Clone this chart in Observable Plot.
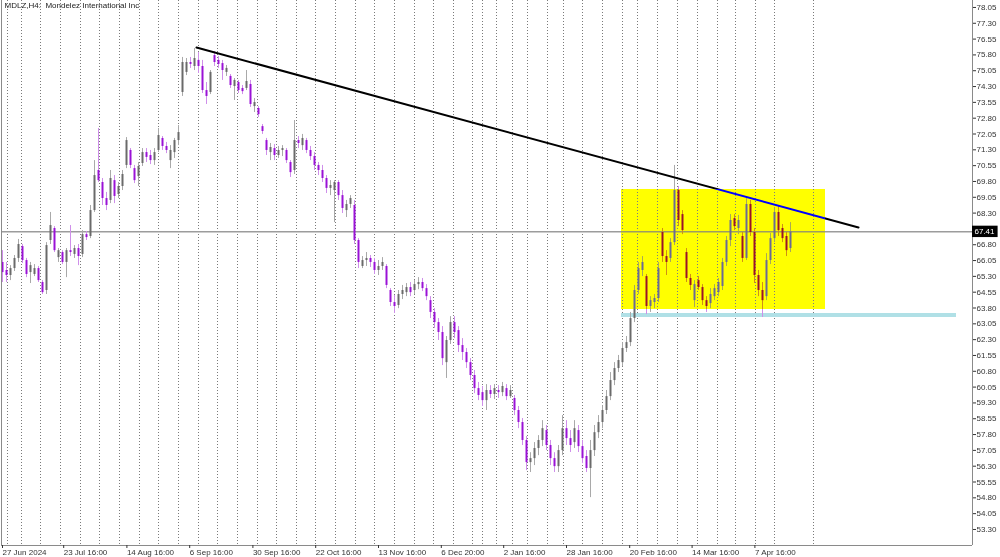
<!DOCTYPE html>
<html><head><meta charset="utf-8">
<script src="https://cdn.jsdelivr.net/npm/d3@7"></script>
<script src="https://cdn.jsdelivr.net/npm/@observablehq/plot@0.6"></script>
<style>html,body{margin:0;padding:0;background:#fff;overflow:hidden}</style>
</head><body><div id="chart"></div>
<script>
// MDLZ H4 – price data (one candle per trading day)
const opens = [65.96,65.58,65.34,65.67,66.15,66.71,66.05,65.48,65.39,65.67,
65.01,64.63,67.00,67.57,66.19,66.43,65.96,66.52,66.34,66.62,
66.34,67.28,67.19,68.42,70.32,69.75,68.99,68.90,69.84,69.18,
69.56,70.56,71.27,70.41,70.03,70.65,71.17,71.03,70.79,71.27,
71.84,71.46,70.79,71.17,71.74,74.02,74.97,75.44,75.25,75.54,
75.25,74.11,74.02,75.77,75.54,75.39,74.97,74.78,74.30,74.49,
74.21,74.21,74.40,73.35,73.26,72.40,71.74,71.17,71.36,71.03,
71.27,71.27,70.70,70.32,71.74,71.50,71.74,71.27,70.98,70.56,
70.32,69.94,69.47,69.37,69.75,69.13,68.42,68.71,68.66,67.00,
65.77,66.05,66.15,65.96,65.58,65.77,65.77,64.63,64.06,63.92,
64.44,64.53,64.77,64.63,64.91,65.01,64.72,64.15,63.59,63.11,
62.64,61.21,62.26,63.11,62.73,62.02,61.69,61.21,60.60,59.98,
59.79,59.41,59.89,59.70,59.89,59.79,59.98,59.60,59.51,58.94,
58.37,57.52,56.47,56.66,57.14,57.52,57.99,57.28,56.66,56.28,
57.04,58.08,57.61,57.42,57.99,57.23,56.76,56.19,57.04,57.89,
58.37,58.94,59.60,60.36,60.93,61.21,61.88,62.16,63.30,64.63,
65.58,65.29,63.87,64.06,64.25,67.38,66.24,66.15,66.90,69.37,
68.23,66.43,65.20,64.15,65.10,64.77,64.15,64.01,64.34,64.53,
64.82,65.96,67.00,68.04,67.57,67.19,66.15,68.71,67.38,65.34,
64.63,64.34,66.05,67.09,68.33,67.57,67.19,66.62];
const highs = [66.52,65.96,65.81,66.29,67.05,66.81,66.15,65.96,65.86,65.77,
65.10,66.90,68.33,67.66,66.62,66.52,66.62,67.71,66.76,66.81,
67.47,67.43,68.66,70.79,72.31,69.94,69.28,70.32,70.08,69.75,
70.32,71.88,71.36,70.56,70.70,71.36,71.36,71.27,71.36,72.31,
71.93,71.65,71.50,71.84,72.45,75.68,75.63,75.68,76.10,75.91,
75.54,74.49,75.06,75.96,75.72,75.54,75.30,74.87,74.68,74.59,
74.35,75.06,74.59,73.73,73.35,72.50,71.84,71.60,71.55,71.46,
71.50,71.36,70.79,72.69,71.93,72.03,71.84,71.46,71.17,70.70,
70.56,70.08,69.84,69.84,69.84,69.37,68.90,69.13,68.90,67.09,
66.24,66.43,66.29,66.15,66.05,66.19,65.86,64.72,64.39,64.63,
64.87,64.96,65.01,65.10,65.24,65.20,64.91,64.34,63.77,63.30,
62.92,62.45,63.39,63.39,62.92,62.35,61.88,61.40,60.84,60.27,
60.08,60.17,60.12,60.17,60.12,60.27,60.17,60.12,59.65,59.13,
58.56,57.71,56.94,57.42,57.75,58.46,58.23,57.52,56.94,57.28,
58.70,58.46,57.99,58.46,58.23,57.52,57.04,57.52,58.23,58.70,
59.17,59.89,60.74,61.21,61.55,62.16,62.45,63.59,64.87,65.96,
66.24,65.39,64.34,64.44,65.96,67.57,66.52,67.09,70.56,69.56,
68.42,66.62,65.39,65.10,65.29,64.91,64.34,64.72,64.91,65.20,
66.15,67.19,68.23,68.23,68.19,67.38,68.99,68.90,67.57,65.58,
65.01,66.38,67.33,68.56,68.61,67.76,67.38,67.85];
const lows = [65.01,65.01,65.10,65.53,65.96,65.91,65.24,64.96,65.29,65.01,
64.44,64.44,66.81,66.43,65.96,65.86,65.24,66.24,66.15,65.81,
66.19,67.00,67.09,68.33,69.75,68.66,68.42,68.75,68.75,68.99,
69.37,70.41,70.41,69.70,69.56,70.51,70.70,70.60,70.56,71.17,
71.27,71.12,70.41,70.89,71.50,73.83,74.82,75.16,75.06,74.92,
73.97,73.45,73.92,75.25,75.16,74.59,74.78,74.21,73.64,73.97,
73.92,74.11,73.31,73.07,72.83,72.03,71.03,70.79,70.79,70.89,
70.98,70.65,69.99,70.13,71.36,71.27,71.12,70.79,70.32,70.08,
69.75,69.23,69.13,67.85,68.90,68.28,68.09,68.52,66.81,65.67,
65.67,65.77,65.72,65.39,65.34,65.58,64.72,63.87,63.54,63.77,
64.20,64.34,64.34,64.44,64.67,64.58,64.15,63.30,62.83,62.26,
61.07,60.46,62.07,62.35,61.69,61.31,60.93,60.36,59.74,59.41,
59.13,58.94,59.51,59.46,59.51,59.60,59.41,59.51,58.70,58.08,
57.28,56.09,56.00,56.33,56.80,57.23,57.04,56.33,56.00,56.00,
56.80,57.28,56.95,57.14,56.95,56.42,56.00,54.81,56.76,57.61,
58.08,58.75,59.41,60.12,60.74,61.02,61.69,61.97,63.11,64.44,
65.29,63.49,63.59,63.77,64.06,65.96,65.34,65.96,66.76,67.66,
67.28,65.01,64.63,63.82,64.63,63.92,63.59,63.77,64.15,64.34,
64.63,65.77,66.71,67.47,67.28,65.96,66.05,67.19,64.96,64.34,
63.35,64.15,65.86,66.90,67.19,66.90,66.24,66.43];
const closes = [65.48,65.34,65.67,66.15,66.81,66.05,65.39,65.81,65.67,65.10,
64.53,66.76,67.71,66.52,66.52,65.96,66.52,66.43,66.62,66.24,
67.28,67.14,68.42,70.08,69.84,68.99,68.66,69.94,69.09,69.56,
70.13,71.74,70.56,69.84,70.51,71.17,70.94,70.79,71.17,71.98,
71.46,71.27,71.27,71.74,72.12,75.44,75.44,75.35,75.63,75.25,
74.11,73.83,74.97,75.44,75.35,75.06,75.16,74.35,74.59,74.11,
74.06,74.54,73.45,73.54,72.97,72.17,71.27,71.41,71.03,71.27,
71.36,70.79,70.22,71.74,71.60,71.84,71.27,70.98,70.56,70.32,
69.94,69.47,69.61,69.75,69.13,68.52,68.71,68.99,67.00,65.96,
66.05,66.15,65.96,65.58,65.77,65.96,64.87,64.06,63.87,64.44,
64.63,64.77,64.53,64.91,65.01,64.72,64.34,63.59,63.11,62.64,
61.40,62.26,63.11,62.64,62.02,61.69,61.21,60.60,59.98,59.65,
59.41,59.89,59.70,59.98,59.79,60.08,59.60,59.89,58.94,58.37,
57.52,56.47,56.66,57.14,57.52,58.08,57.28,56.66,56.28,57.04,
58.08,57.61,57.28,58.08,57.23,56.66,56.19,57.04,57.89,58.37,
58.94,59.60,60.36,60.93,61.31,61.88,62.16,63.30,64.63,65.67,
65.96,63.87,64.15,64.25,65.67,66.24,65.96,66.90,69.37,67.95,
67.47,65.20,64.87,64.91,64.77,64.15,63.87,64.44,64.72,65.01,
65.96,67.00,67.95,67.66,67.95,66.15,68.71,67.38,65.34,64.63,
64.15,66.05,67.09,68.33,67.47,67.09,66.52,67.41];

const yTicks = [78.05,77.30,76.55,75.80,75.05,74.30,73.55,72.80,72.05,71.30,70.55,69.80,69.05,68.30,67.55,66.80,66.05,65.30,64.55,63.80,63.05,62.30,61.55,60.80,60.05,59.30,58.55,57.80,57.05,56.30,55.55,54.80,54.05,53.30];
const timeLabels = ["27 Jun 2024","23 Jul 16:00","14 Aug 16:00","6 Sep 16:00","30 Sep 16:00","22 Oct 16:00","13 Nov 16:00","6 Dec 20:00","2 Jan 16:00","28 Jan 16:00","20 Feb 16:00","14 Mar 16:00","7 Apr 16:00"];
const timeLabelIdx = [0,15.3,31.1,46.8,62.6,78.3,94,109.7,125.3,141,156.8,172.4,188.1];
const weekIdx = [1.25,4.75,9.5,14.5,19.5,24.25,29.25,34.25,39,44,49,53.75,58.75,63.75,68.5,73.5,78.25,83.25,88.25,93,98,103,107.75,112.75,117.5,120,123.5,127.5,131.25,136.25,140.25,145,150,155,158.75,163.75,168.75,173.75,178.75,183.25,188.25,193,202.75];
const lastPrice = 67.41;
const trendLine = [{i:48.5, p:76.15},{i:214, p:67.62}];
const rangeBox = [{i1:154.75, i2:205.75, p1:63.73, p2:69.42}];
const supportBand = [{i1:154.75, i2:238.5, p1:63.35, p2:63.54}];
const title = "MDLZ,H4:  Mondelez International Inc";

const xDomain = [-0.25, 242.5];
const yDomain = [52.54, 78.38];

const candles = closes.map((c, i) => ({i, o: opens[i], h: highs[i], l: lows[i], c}));
const bull = candles.filter(d => d.c >= d.o);
const bear = candles.filter(d => d.c < d.o);

const bullBody = "#6a6a6a", bullWick = "#a9a9a9";
const bearBody = "#9a12d6", bearWick = "#cf8fea";

// the price tag covers the tick label closest to the last price, as in the terminal
const hiddenByTag = v => Math.abs(v - lastPrice) < 0.3;

const chart = Plot.plot({
  width: 1000, height: 557,
  marginLeft: 1, marginRight: 28, marginTop: 0, marginBottom: 12,
  style: {fontFamily: "'Liberation Sans', Arial, sans-serif", fontSize: "8px", background: "white", color: "#222"},
  x: {type: "linear", domain: xDomain, axis: null},
  y: {type: "linear", domain: yDomain, axis: null},
  marks: [
    Plot.frame({fill: "white", stroke: null}),
    Plot.ruleX(weekIdx, {stroke: "#7a7a7a", strokeDasharray: "1,2", strokeWidth: 1}),
    Plot.ruleY([lastPrice], {stroke: "#9c9c9c", strokeWidth: 1.5}),
    Plot.rect(supportBand, {x1: "i1", x2: "i2", y1: "p1", y2: "p2", fill: "#b0e0e6"}),
    Plot.ruleX(bull, {x: "i", y1: "l", y2: "h", stroke: bullWick, strokeWidth: 1}),
    Plot.ruleX(bear, {x: "i", y1: "l", y2: "h", stroke: bearWick, strokeWidth: 1}),
    Plot.ruleX(bull, {x: "i", y1: "o", y2: "c", stroke: bullBody, strokeWidth: 2}),
    Plot.ruleX(bear, {x: "i", y1: "o", y2: "c", stroke: bearBody, strokeWidth: 2}),
    Plot.line(trendLine, {x: "i", y: "p", stroke: "black", strokeWidth: 2}),
    Plot.rect(rangeBox, {x1: "i1", x2: "i2", y1: "p1", y2: "p2", fill: "#0000ff", mixBlendMode: "difference"}),
    Plot.ruleX([xDomain[0]], {stroke: "#8a8a8a"}),
    Plot.ruleX([xDomain[1]], {stroke: "#8a8a8a"}),
    Plot.ruleY([yDomain[0]], {stroke: "#8a8a8a", x1: xDomain[0], x2: xDomain[1]}),
    Plot.axisY(yTicks, {anchor: "right", tickSize: 3, tickPadding: 1, tickFormat: d => hiddenByTag(d) ? "" : d.toFixed(2), label: null, color: "#333"}),
    Plot.axisX(timeLabelIdx, {anchor: "bottom", tickSize: 3, tickPadding: 1, tickFormat: d => timeLabels[timeLabelIdx.indexOf(d)], textAnchor: "start", label: null, color: "#333"}),
    Plot.rect([lastPrice], {x1: xDomain[1], x2: xDomain[1] + 6.4, y1: d => d - 0.27, y2: d => d + 0.27, fill: "black", clip: false}),
    Plot.text([lastPrice], {x: xDomain[1], y: d => d, text: d => d.toFixed(2), textAnchor: "start", dx: 2, fill: "white"}),
    Plot.text([title], {frameAnchor: "top-left", dx: 3, dy: 2, lineAnchor: "top", textAnchor: "start", fill: "#222"})
  ]
});
document.getElementById("chart").appendChild(chart);
</script>
</body></html>
